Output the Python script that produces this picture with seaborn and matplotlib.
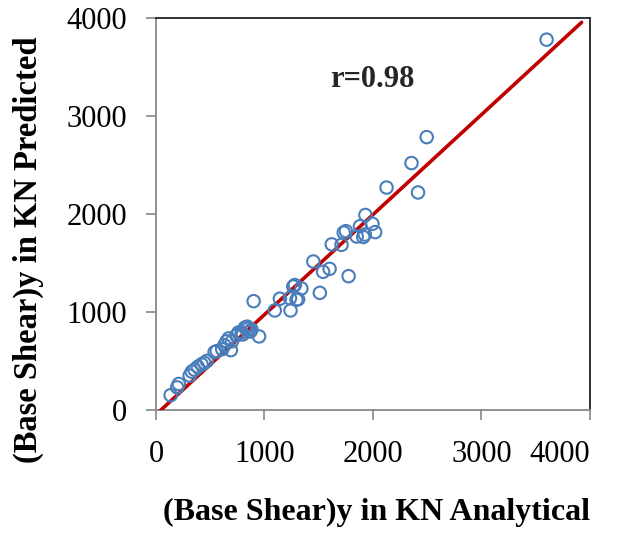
import matplotlib
matplotlib.use("Agg")
import matplotlib.pyplot as plt
import seaborn as sns
import pandas as pd

# Data
analytical = [135, 195, 210, 310, 330, 355, 385, 420, 445, 470, 540, 560, 610, 630,
              650, 670, 690, 700, 740, 760, 790, 820, 840, 850, 870, 880, 800, 950,
              900, 1095, 1142, 1240, 1235, 1265, 1280, 1295, 1310, 1340, 1450, 1510,
              1540, 1600, 1620, 1710, 1730, 1750, 1775, 1850, 1880, 1910, 1925, 1930,
              1995, 2020, 2125, 2355, 2415, 2495, 3600]
predicted = [150, 230, 265, 350, 390, 410, 440, 465, 480, 500, 590, 600, 620, 660,
             700, 730, 610, 700, 760, 790, 790, 840, 850, 830, 800, 820, 770, 750,
             1110, 1015, 1135, 1015, 1140, 1260, 1275, 1125, 1130, 1240, 1515, 1195,
             1410, 1440, 1690, 1685, 1810, 1825, 1365, 1770, 1875, 1765, 1790, 1990,
             1900, 1815, 2270, 2520, 2220, 2785, 3780]
fit_x = [37, 3923]
fit_y = [-10, 3957]
r_label = "r=0.98"
x_ticks = [0, 1000, 2000, 3000, 4000]
y_ticks = [0, 1000, 2000, 3000, 4000]

df = pd.DataFrame({"Analytical": analytical, "Predicted": predicted})
fit = pd.DataFrame({"x": fit_x, "y": fit_y})

sns.set_theme(style="white")
plt.rcParams["font.family"] = ["Liberation Serif", "DejaVu Serif"]

fig = plt.figure(figsize=(6.24, 5.33), dpi=100)
ax = fig.add_axes([0.25, 0.231, 0.6955, 0.735])

sns.lineplot(data=fit, x="x", y="y", ax=ax, color="#C00000", linewidth=2.6, zorder=3)
sns.scatterplot(data=df, x="Analytical", y="Predicted", ax=ax, marker="o", s=80,
                facecolors="none", edgecolor="#4A7EBB", linewidth=1.5, zorder=4)

ax.set_xlim(0, 4000)
ax.set_ylim(0, 4000)
ax.set_xticks(x_ticks)
ax.set_yticks(y_ticks)
ax.set_xticklabels([str(t) for t in x_ticks])
ax.set_yticklabels([str(t) for t in y_ticks])
ax.tick_params(axis="both", labelsize=22, length=7, width=1.2, color="#888888",
               direction="out", labelcolor="black")
ax.tick_params(axis="y", pad=14)
ax.tick_params(axis="x", pad=15)
ax.get_xticklabels()[-1].set_ha("right")
ax.xaxis.set_ticks_position("bottom")
ax.yaxis.set_ticks_position("left")

for side in ["top", "right"]:
    ax.spines[side].set_color("#222222")
    ax.spines[side].set_linewidth(1.3)
for side in ["left", "bottom"]:
    ax.spines[side].set_color("#888888")
    ax.spines[side].set_linewidth(1.3)

ax.set_xlabel("(Base Shear)y in KN Analytical", fontsize=23, fontweight="bold",
              va="center", color="black")
ax.set_ylabel("(Base Shear)y in KN Predicted", fontsize=23.5, fontweight="bold",
              va="center", color="black")
ax.xaxis.set_label_coords(0.509, -0.263)
ax.yaxis.set_label_coords(-0.295, 0.408)

ax.text(1990, 3375, r_label, fontsize=22, fontweight="bold", ha="center", va="center")

fig.savefig("out.png", dpi=100)
